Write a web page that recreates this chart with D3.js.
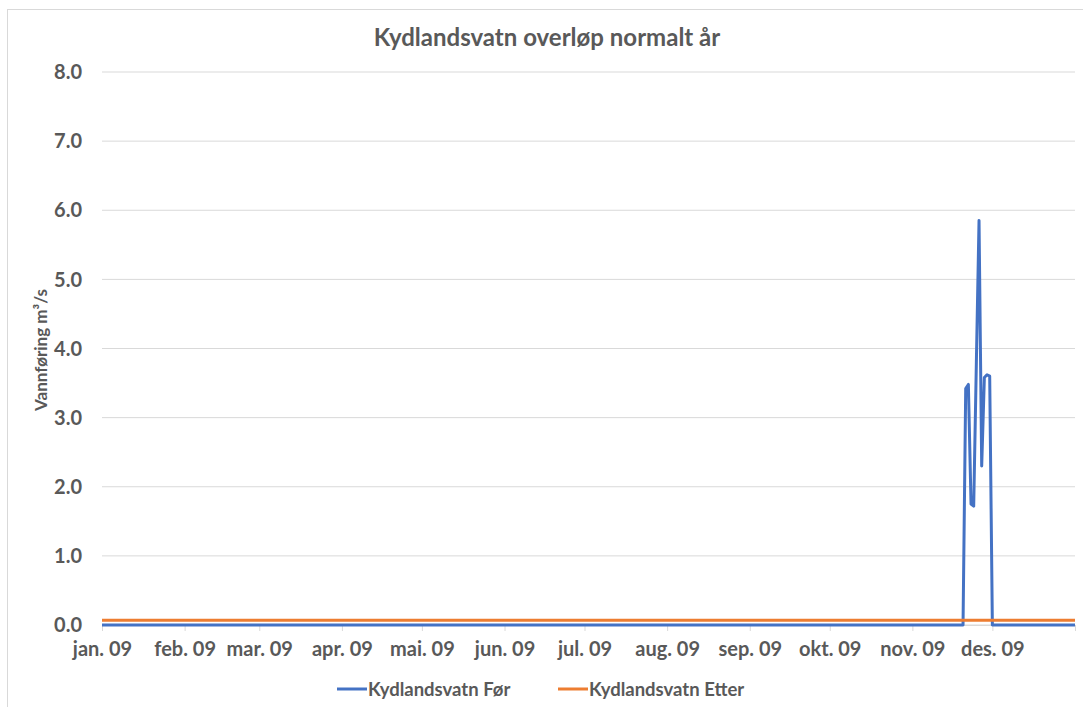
<!DOCTYPE html>
<html>
<head>
<meta charset="utf-8">
<script src="https://cdn.jsdelivr.net/npm/d3@7"></script>
<style>
  body { margin: 0; background: #fff; }
  text { font-family: Lato, "Open Sans", sans-serif; fill: #595959; }
</style>
</head>
<body>
<div id="chart"></div>
<script>
// data (daily series, only the breakpoints are listed)
const chartTitle = "Kydlandsvatn overløp normalt år";
const yTitle = "Vannføring m³/s";
const seriesNames = ["Kydlandsvatn Før", "Kydlandsvatn Etter"];
const seriesColors = ["#4472C4", "#ED7D31"];

const forDates = ["2009-01-01", "2009-11-20", "2009-11-21", "2009-11-22", "2009-11-23", "2009-11-24",
    "2009-11-25", "2009-11-26", "2009-11-27", "2009-11-28", "2009-11-29", "2009-11-30", "2009-12-01", "2010-01-01"];
const forValues = [0, 0, 3.42, 3.48, 1.75, 1.72, 3.8, 5.85, 2.3, 3.58, 3.62, 3.6, 0, 0];

const etterDates = ["2009-01-01", "2010-01-01"];
const etterValues = [0.07, 0.07];

const yTicks = [0, 1, 2, 3, 4, 5, 6, 7, 8];
const monthLabels = ["jan. 09", "feb. 09", "mar. 09", "apr. 09", "mai. 09", "jun. 09",
    "jul. 09", "aug. 09", "sep. 09", "okt. 09", "nov. 09", "des. 09"];

const W = 1083, H = 707;
const margin = { top: 72, right: 8, bottom: 82, left: 102 };
const width = W - margin.left - margin.right;
const height = H - margin.top - margin.bottom;

const parse = d3.utcParse("%Y-%m-%d");
const forData = forDates.map((d, i) => ({ date: parse(d), value: forValues[i] }));
const etterData = etterDates.map((d, i) => ({ date: parse(d), value: etterValues[i] }));

const svg = d3.select("#chart").append("svg")
    .attr("width", W)
    .attr("height", H);

// chart border
svg.append("rect")
    .attr("x", 7.5).attr("y", 9.5)
    .attr("width", W + 20).attr("height", H + 20)
    .attr("fill", "none")
    .attr("stroke", "#d9d9d9");

const g = svg.append("g")
    .attr("transform", `translate(${margin.left},${margin.top})`);

// scales
const x = d3.scaleUtc()
    .domain([parse("2009-01-01"), parse("2010-01-01")])
    .range([0, width]);
const y = d3.scaleLinear()
    .domain([0, 8])
    .range([height, 0]);

// gridlines
g.append("g")
    .selectAll("line")
    .data(yTicks)
    .join("line")
    .attr("x1", 0).attr("x2", width)
    .attr("y1", d => y(d)).attr("y2", d => y(d))
    .attr("stroke", "#d9d9d9")
    .attr("stroke-width", 1);

// y axis labels
g.append("g")
    .selectAll("text")
    .data(yTicks)
    .join("text")
    .attr("x", -20)
    .attr("y", d => y(d))
    .attr("dy", "0.36em")
    .attr("text-anchor", "end")
    .style("font-size", "20px")
    .style("font-weight", 700)
    .text(d => d.toFixed(1));

// x axis
const monthTicks = d3.utcMonth.range(parse("2009-01-01"), parse("2010-01-02"));
const xAxis = d3.axisBottom(x)
    .tickValues(monthTicks)
    .tickSize(6)
    .tickPadding(11)
    .tickFormat((d, i) => monthLabels[i] || "");

const xg = g.append("g")
    .attr("transform", `translate(0,${height})`)
    .call(xAxis);
xg.select(".domain").attr("stroke", "#d9d9d9");
xg.selectAll(".tick line").attr("stroke", "#d9d9d9");
xg.selectAll(".tick text")
    .style("font-size", "20px")
    .style("font-weight", 700)
    .attr("fill", "#595959");

// lines
const line = d3.line()
    .x(d => x(d.date))
    .y(d => y(d.value));

[forData, etterData].forEach((data, i) => {
    g.append("path")
        .datum(data)
        .attr("fill", "none")
        .attr("stroke", seriesColors[i])
        .attr("stroke-width", 3)
        .attr("stroke-linejoin", "round")
        .attr("d", line);
});

// title
svg.append("text")
    .attr("x", 547)
    .attr("y", 46)
    .attr("text-anchor", "middle")
    .style("font-size", "24px")
    .style("font-weight", 700)
    .text(chartTitle);

// y title
svg.append("text")
    .attr("transform", "translate(47,350) rotate(-90)")
    .attr("text-anchor", "middle")
    .style("font-size", "17px")
    .style("font-weight", 700)
    .text(yTitle);

// legend
const legendX = [337, 558];
const legend = svg.append("g");
seriesNames.forEach((name, i) => {
    legend.append("line")
        .attr("x1", legendX[i]).attr("x2", legendX[i] + 30)
        .attr("y1", 689).attr("y2", 689)
        .attr("stroke", seriesColors[i])
        .attr("stroke-width", 3);
    legend.append("text")
        .attr("x", legendX[i] + 31)
        .attr("y", 689)
        .attr("dy", "0.36em")
        .style("font-size", "18.5px")
        .style("font-weight", 700)
        .text(name);
});
</script>
</body>
</html>
